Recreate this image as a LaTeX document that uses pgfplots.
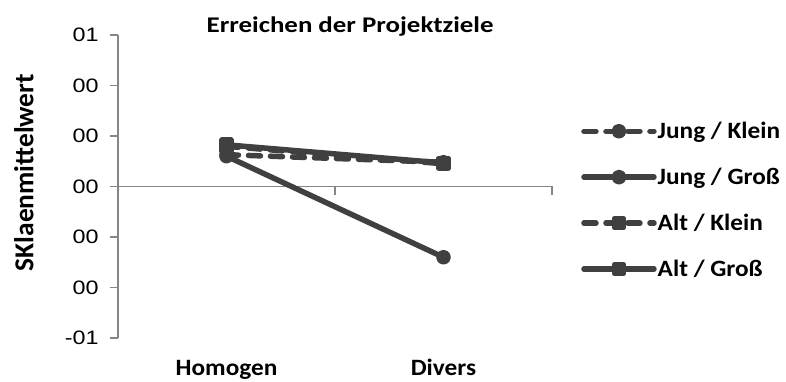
\documentclass[border=0pt]{standalone}
\usepackage{fontspec}
\setmainfont{Carlito}
\newfontfamily\tickfont{Liberation Sans}[FakeStretch=1.2]
\newfontfamily\titlefont{Carlito}[FakeStretch=1.2]
\newfontfamily\legfont{Carlito}[FakeStretch=1.08]
\usepackage{pgfplots}
\pgfplotsset{compat=1.18}
\definecolor{ln}{HTML}{404040}
\definecolor{axc}{HTML}{868686}
\begin{document}
\begin{tikzpicture}
\useasboundingbox (0,0) rectangle (786bp,382bp);
\begin{axis}[
  at={(118bp,44bp)}, anchor=south west,
  scale only axis, width=434bp, height=303bp,
  xmin=0.5, xmax=2.5, ymin=-1, ymax=1,
  axis x line=middle, axis y line=left,
  axis line style={-, draw=axc, line width=1.5bp},
  tick style={draw=axc, line width=1.5bp},
  major tick length=8bp,
  tick align=outside,
  xtick={1.5,2.5}, xticklabels={},
  extra x ticks={1,2},
  extra x tick labels={Homogen,Divers},
  extra x tick style={major tick length=0bp,
     tick label style={anchor=base, yshift=-189bp, font=\bfseries\fontsize{23.5}{26}\selectfont\legfont}},
  ytick={-1,-0.6667,-0.3333,0,0.3333,0.6667,1},
  yticklabels={-01,00,00,00,00,00,01},
  yticklabel style={font=\tickfont\fontsize{19.5}{21}\selectfont, xshift=-8bp},
  every axis title shift=0pt,
  title={Erreichen der Projektziele},
  title style={at={(0.535,1)}, anchor=base, yshift=2bp, font=\titlefont\bfseries\fontsize{22.5}{24}\selectfont},
  ylabel={SKlaenmittelwert},
  ylabel style={at={(axis description cs:-0.217,0.546)}, anchor=center, font=\bfseries\fontsize{27.5}{29}\selectfont},
  legend style={draw=none, fill=none, at={(1.06,0.455)}, anchor=west,
     font=\legfont\bfseries\fontsize{23.5}{26}\selectfont, row sep=26bp,
     nodes={inner sep=1bp}},
  legend cell align=left,
  legend image code/.code={\draw[mark repeat=2,mark phase=2] plot coordinates {(0bp,0bp) (35bp,0bp) (70bp,0bp)};},
  every axis plot/.append style={color=ln, line cap=round, line join=round},
  clip=false,
]
\addplot[color=ln, line width=5.5bp, dash pattern=on 12bp off 10bp, mark=*, mark size=4.7bp, mark options={solid}]
  coordinates {(1,0.21) (2,0.16)};
\addlegendentry{Jung / Klein}
\addplot[color=ln, line width=5.5bp, mark=*, mark size=4.7bp]
  coordinates {(1,0.20) (2,-0.467)};
\addlegendentry{Jung / Groß}
\addplot[color=ln, line width=5.5bp, dash pattern=on 12bp off 10bp, mark=square*, mark size=4.6bp, mark options={solid}]
  coordinates {(1,0.265) (2,0.15)};
\addlegendentry{Alt / Klein}
\addplot[color=ln, line width=5.5bp, mark=square*, mark size=4.6bp]
  coordinates {(1,0.275) (2,0.155)};
\addlegendentry{Alt / Groß}
\end{axis}
\end{tikzpicture}
\end{document}
